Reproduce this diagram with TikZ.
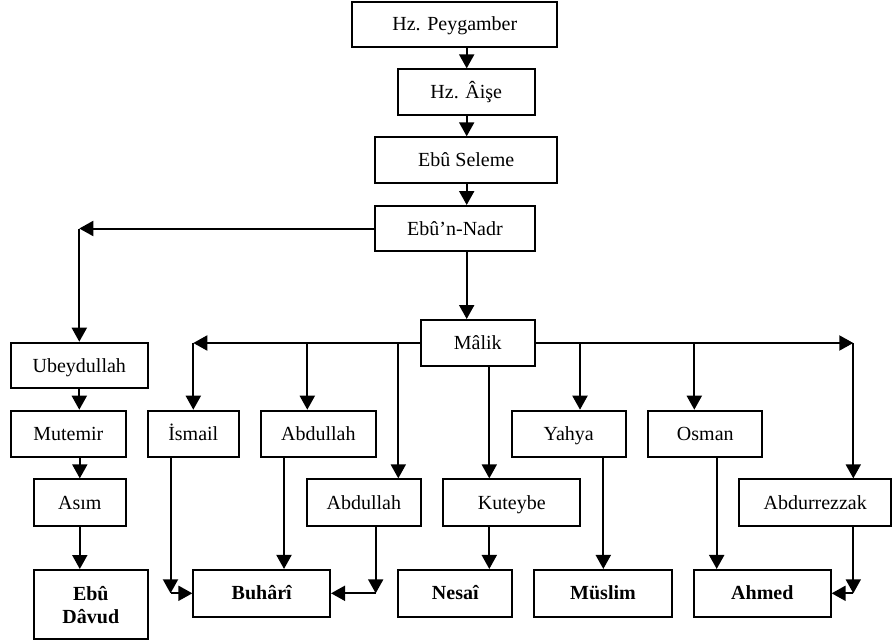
\documentclass[tikz,border=0pt]{standalone}
\usepackage{fontspec}
\setmainfont{Liberation Serif}
\usetikzlibrary{arrows.meta}
\tikzset{
  bx/.style={draw, line width=2pt, inner sep=0pt, align=center,
    text height=13pt, text depth=0pt,
    font=\fontsize{20}{23}\selectfont},
  bbx/.style={bx, font=\fontsize{20}{23}\selectfont\bfseries},
  arr/.style={line width=2pt, -{Triangle[width=15pt,length=14pt]}}
}
\begin{document}
\begin{tikzpicture}[x=1pt,y=-1pt]
\useasboundingbox (0,0) rectangle (892,643);
% nodes
\node[bx, minimum width=205pt, minimum height=45pt] (pey) at (454.8,24.2) {Hz. Peygamber};
\node[bx, minimum width=137.3pt, minimum height=45.7pt] (aise) at (466.3,92.2) {Hz. Âişe};
\node[bx, minimum width=182.3pt, minimum height=46pt] (seleme) at (466.2,160.3) {Ebû Seleme};
\node[bx, minimum width=160pt, minimum height=45pt] (nadr) at (455,228.5) {Ebû’n-Nadr};
\node[bx, minimum width=114.3pt, minimum height=46pt] (malik) at (477.8,343) {Mâlik};
\node[bx, minimum width=136.7pt, minimum height=45.6pt] (ubey) at (79.3,365.5) {Ubeydullah};
\node[bx, minimum width=114.7pt, minimum height=46pt] (mutemir) at (68.3,433.7) {Mutemir};
\node[bx, minimum width=91.3pt, minimum height=46pt] (ismail) at (193.3,433.7) {İsmail};
\node[bx, minimum width=114.7pt, minimum height=46pt] (abdA) at (318.3,433.7) {Abdullah};
\node[bx, minimum width=114pt, minimum height=46pt] (yahya) at (568.7,433.7) {Yahya};
\node[bx, minimum width=114pt, minimum height=46pt] (osman) at (705.3,433.7) {Osman};
\node[bx, minimum width=91.7pt, minimum height=46.7pt] (asim) at (79.8,502.7) {Asım};
\node[bx, minimum width=114.3pt, minimum height=46.7pt] (abdB) at (363.8,502.7) {Abdullah};
\node[bx, minimum width=137pt, minimum height=46.7pt] (kuteybe) at (511.8,502.7) {Kuteybe};
\node[bx, minimum width=151.7pt, minimum height=46.7pt] (abdurr) at (815.2,502.7) {Abdurrezzak};
\node[bbx, text height=37pt, minimum width=113.7pt, minimum height=69pt] (davud) at (90.8,604.5) {Ebû\\Dâvud};
\node[bbx, minimum width=136.7pt, minimum height=46.7pt] (buhari) at (261.7,593.3) {Buhârî};
\node[bbx, minimum width=114pt, minimum height=46.7pt] (nesai) at (455.3,593.3) {Nesaî};
\node[bbx, minimum width=137.4pt, minimum height=46.7pt] (muslim) at (603,593.3) {Müslim};
\node[bbx, minimum width=136.7pt, minimum height=46.7pt] (ahmed) at (762.3,593.3) {Ahmed};
% helper coordinates
\coordinate (xa) at (466.7,0);
\coordinate (cU) at (ubey.center |- nadr.west);
\coordinate (cI) at (ismail.center |- malik.west);
\coordinate (bA) at (307.3,343);
\coordinate (bB) at (398.3,343);
\coordinate (bY) at (580,343);
\coordinate (bO) at (694.3,343);
\coordinate (cR) at (853.3,343);
\coordinate (xk) at (489.3,0);
\coordinate (ci) at (170.5,593.3);
\coordinate (xb) at (284,0);
\coordinate (cB) at (375.7,593.3);
\coordinate (xy) at (603.3,0);
\coordinate (xo) at (716.7,0);
\coordinate (cA) at (853.3,593.3);
% top chain
\draw[arr] (pey.south -| xa) -- (aise.north -| xa);
\draw[arr] (aise.south -| xa) -- (seleme.north -| xa);
\draw[arr] (seleme.south -| xa) -- (nadr.north -| xa);
\draw[arr] (nadr.south -| xa) -- (malik.north -| xa);
% left branch
\draw[arr] (nadr.west) -- (cU);
\draw[arr] (cU) -- (ubey.north);
\draw[arr] (ubey.south) -- (ubey.south |- mutemir.north);
\draw[arr] (asim.north |- mutemir.south) -- (asim.north);
\draw[arr] (asim.south) -- (asim.south |- davud.north);
% Malik branches
\draw[arr] (malik.west) -- (cI);
\draw[arr] (cI) -- (ismail.north);
\draw[arr] (bA) -- (bA |- abdA.north);
\draw[arr] (bB) -- (bB |- abdB.north);
\draw[arr] (malik.east) -- (cR);
\draw[arr] (cR) -- (cR |- abdurr.north);
\draw[arr] (bY) -- (bY |- yahya.north);
\draw[arr] (bO) -- (bO |- osman.north);
\draw[arr] (malik.south -| xk) -- (kuteybe.north -| xk);
% to bottom
\draw[arr] (kuteybe.south -| xk) -- (nesai.north -| xk);
\draw[arr] (ismail.south -| ci) -- (ci);
\draw[arr] (ci) -- (buhari.west);
\draw[arr] (abdA.south -| xb) -- (buhari.north -| xb);
\draw[arr] (abdB.south -| cB) -- (cB);
\draw[arr] (cB) -- (buhari.east);
\draw[arr] (yahya.south -| xy) -- (muslim.north -| xy);
\draw[arr] (osman.south -| xo) -- (ahmed.north -| xo);
\draw[arr] (abdurr.south -| cA) -- (cA);
\draw[arr] (cA) -- (ahmed.east);
\end{tikzpicture}
\end{document}
